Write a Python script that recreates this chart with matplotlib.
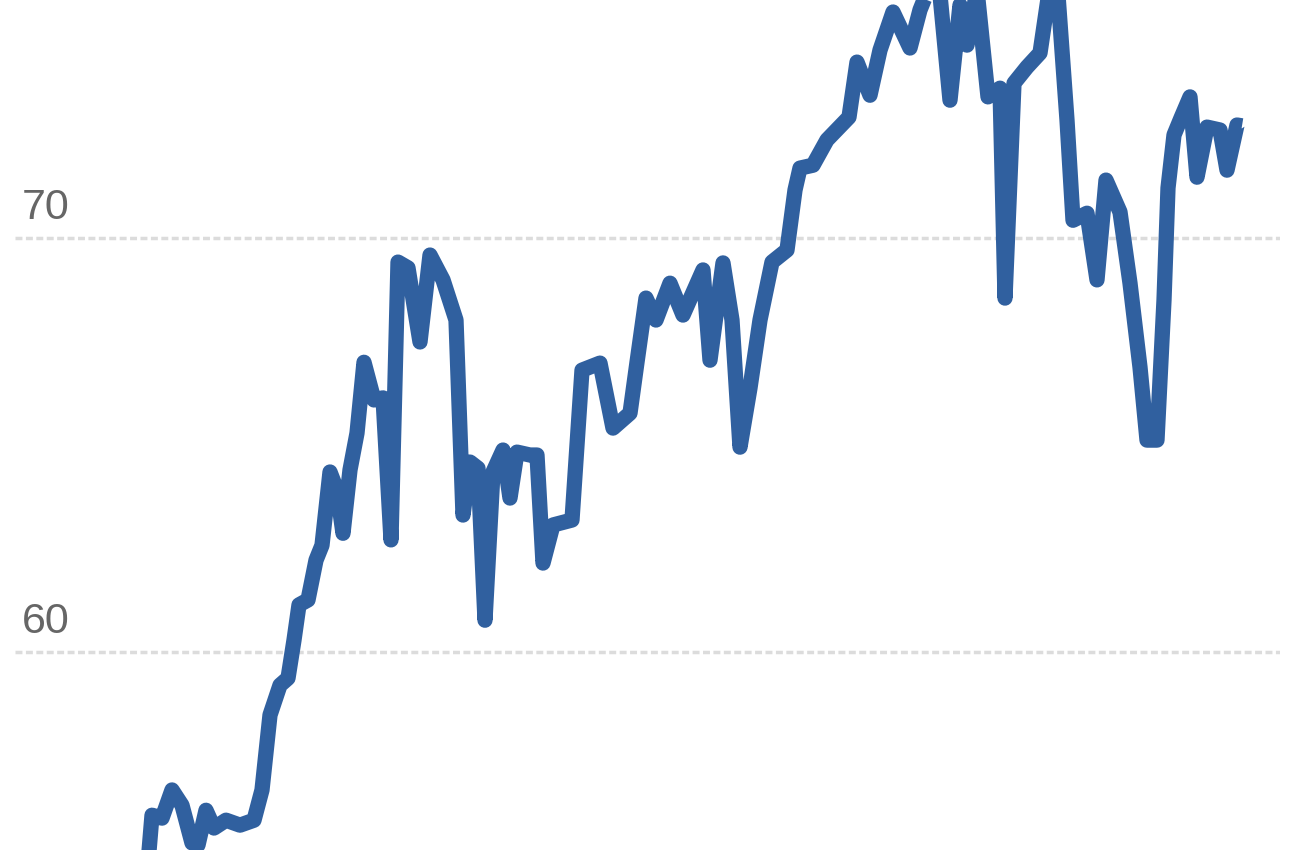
import matplotlib
matplotlib.use("Agg")
import matplotlib.pyplot as plt
import matplotlib.transforms as mtransforms

# period positions (arbitrary time units) and index values
period = [14.8, 15.2, 16.2, 17.2, 18.2, 19.2, 19.8, 20.6, 21.4, 22.6,
          24.0, 25.4, 26.2, 27.0, 28.0, 28.8, 29.4, 29.9, 30.8, 31.6,
          32.2, 33.0, 33.7, 34.3, 35.0, 35.7, 36.4, 37.4, 38.3, 39.1,
          39.8, 40.8, 42.0, 43.0, 44.3, 45.6, 46.3, 47.0, 47.8, 48.5,
          49.3, 50.3, 51.0, 51.7, 53.0, 53.7, 54.3, 55.3, 57.2, 58.2,
          60.0, 61.3, 63.0, 63.7, 64.6, 65.6, 67.0, 68.3, 70.3, 71.0,
          72.3, 73.2, 74.0, 75.0, 76.0, 77.2, 78.7, 79.5, 80.0, 81.3,
          82.7, 84.9, 85.7, 87.0, 88.0, 89.3, 91.0, 92.0, 92.8, 94.0,
          95.0, 96.0, 96.7, 97.7, 98.8, 100.0, 100.5, 101.4, 102.7, 104.0,
          105.0, 105.8, 106.7, 107.3, 108.7, 109.7, 110.6, 112.0, 113.0, 114.0,
          114.7, 115.7, 116.4, 116.8, 117.4, 118.1, 119.0, 119.7, 120.7, 122.0,
          122.7, 123.7, 124.2]
index = [54.9, 56.06, 55.99, 56.67, 56.30, 55.39, 55.34, 56.18, 55.75, 55.94,
         55.82, 55.94, 56.67, 58.48, 59.20, 59.37, 60.29, 61.14, 61.26, 62.22,
         62.58, 64.35, 63.91, 62.87, 64.40, 65.29, 67.00, 66.09, 66.14, 62.71,
         69.42, 69.28, 67.49, 69.59, 68.99, 68.02, 63.31, 64.59, 64.44, 60.77,
         64.35, 64.88, 63.72, 64.83, 64.76, 64.76, 62.15, 63.07, 63.19, 66.81,
         66.98, 65.41, 65.77, 67.00, 68.55, 68.02, 68.91, 68.14, 69.23, 67.05,
         69.40, 68.02, 64.95, 66.38, 68.02, 69.42, 69.71, 71.16, 71.69, 71.76,
         72.37, 72.92, 74.25, 73.45, 74.54, 75.46, 74.59, 75.51, 75.99, 75.87,
         73.33, 75.63, 74.66, 75.99, 73.41, 73.62, 68.55, 73.74, 74.13, 74.47,
         76.11, 75.87, 72.85, 70.43, 70.60, 68.99, 71.40, 70.63, 68.91, 66.88,
         65.12, 65.12, 68.50, 71.21, 72.49, 72.90, 73.41, 71.47, 72.68, 72.61,
         71.64, 72.73, 72.71]

y_ticks = [60, 70]

fig = plt.figure(figsize=(13, 8.5), dpi=100)
ax = fig.add_axes([15 / 1300, 0, 1265 / 1300, 1])
ax.plot(period, index, color="#30609f", linewidth=11,
        solid_joinstyle="round", solid_capstyle="butt", zorder=3)

ax.set_xlim(1.5, 128.0)
ax.set_ylim(55.22, 75.75)
ax.set_yticks(y_ticks)
ax.set_xticks([])
ax.tick_params(axis="y", length=0, labelleft=False)
ax.grid(axis="y", color="#dcdcdc", linewidth=2.5, linestyle=(0, (2, 1)), zorder=1)
for side in ax.spines.values():
    side.set_visible(False)

trans = mtransforms.blended_transform_factory(ax.transAxes, ax.transData)
for t in y_ticks:
    ax.text(7 / 1265, t + 0.45, str(t), transform=trans, ha="left",
            va="baseline", fontsize=31, color="#666666",
            family=["Liberation Sans", "DejaVu Sans"])

fig.savefig("out.png", dpi=100)
